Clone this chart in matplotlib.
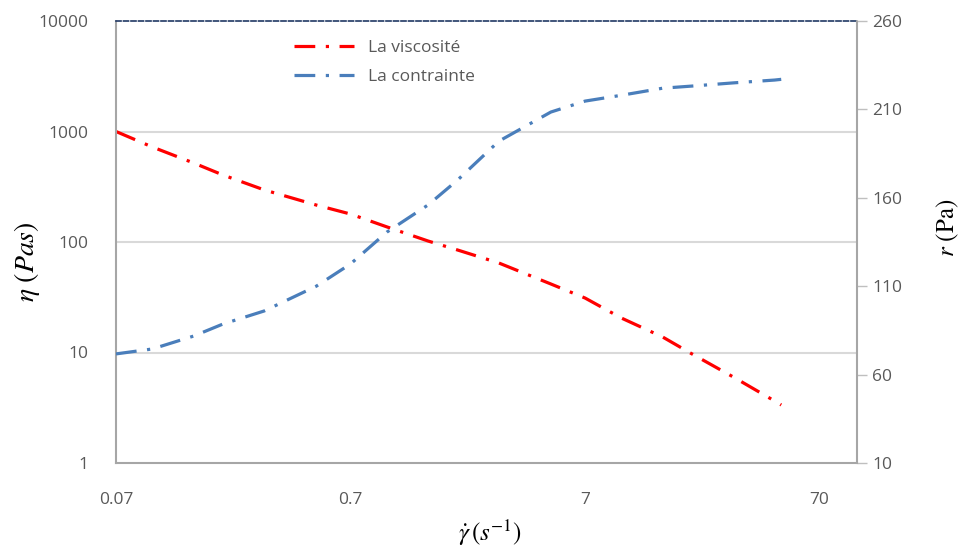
import matplotlib
matplotlib.use("Agg")
import matplotlib.pyplot as plt
from matplotlib.lines import Line2D

# Taux de cisaillement (s-1)
taux = [0.07, 0.1, 0.15, 0.2, 0.3, 0.5, 0.7, 1, 1.5, 2, 3, 5, 7, 10, 15, 20, 30, 45, 48]
# Viscosité (Pa.s), échelle log
viscosite = [1000, 724, 519, 404, 296, 216, 179, 137, 102, 84.7, 64.6, 41.7, 31.1,
             20.5, 13.8, 9.7, 6.0, 3.64, 3.35]
# Contrainte (Pa)
contrainte = [71.7, 74.5, 81.8, 88.6, 96, 110, 122.6, 140.6, 156, 170, 192, 208.5,
              214.7, 218, 222, 223.2, 225, 226.6, 227]

xticks = [0.07, 0.7, 7, 70]
xticklabels = ["0.07", "0.7", "7", "70"]
yticks_gauche = [1, 10, 100, 1000, 10000]
yticks_droite = [10, 60, 110, 160, 210, 260]

gris = "#595959"
plt.rcParams["font.family"] = ["Open Sans", "DejaVu Sans"]
plt.rcParams["mathtext.fontset"] = "stix"

fig = plt.figure(figsize=(9.74, 5.52), dpi=100)
ax = fig.add_axes([116 / 974, 1 - 463 / 552, (857 - 116) / 974, (463 - 21) / 552])
ax2 = ax.twinx()

style = (0, (6.5, 3.3, 1, 3.3))
l1, = ax.plot(taux, viscosite, color="#ff0000", lw=2.3, linestyle=style)
l2, = ax2.plot(taux, contrainte, color="#4a7ebb", lw=2.3, linestyle=style)

ax.set_xscale("log")
ax.set_yscale("log")
ax.set_xlim(0.07, 101)
ax.set_ylim(1, 10000)
ax2.set_ylim(10, 260)

ax.set_xticks(xticks)
ax.set_xticklabels(xticklabels)
ax.xaxis.set_minor_locator(matplotlib.ticker.NullLocator())
ax.set_yticks(yticks_gauche)
ax.set_yticklabels([str(v) for v in yticks_gauche])
ax.yaxis.set_minor_locator(matplotlib.ticker.NullLocator())
ax2.set_yticks(yticks_droite)
ax2.set_yticklabels([str(v) for v in yticks_droite])

ax.tick_params(axis="x", length=0, pad=21, labelsize=12.5, labelcolor=gris)
ax.tick_params(axis="y", length=0, pad=20, labelsize=12.5, labelcolor=gris)
ax2.tick_params(axis="y", length=7, width=1, color="#bfbfbf", pad=4,
                labelsize=12.5, labelcolor=gris)

# grille horizontale
for v in [10, 100, 1000]:
    ax.axhline(v, color="#d9d9d9", lw=1.5, zorder=0)

tirets = (0, (2, 1))
for nom in ["left", "bottom"]:
    ax.spines[nom].set_color("#a6a6a6")
    ax.spines[nom].set_linestyle(tirets)
    ax.spines[nom].set_linewidth(1.5)
ax.spines["top"].set_color("#203864")
ax.spines["top"].set_linestyle((0, (3, 1.5)))
ax.spines["top"].set_linewidth(1.2)
ax.spines["right"].set_visible(False)
for nom in ["left", "bottom", "top"]:
    ax2.spines[nom].set_visible(False)
ax2.spines["right"].set_color("#a6a6a6")
ax2.spines["right"].set_linestyle(tirets)
ax2.spines["right"].set_linewidth(1.5)

fig.text(27 / 974, 1 - 262 / 552, r"$\eta\ (Pas)$", rotation=90, fontsize=20,
         ha="center", va="center", color="black")
fig.text(948 / 974, 1 - 228 / 552, r"$r$ (Pa)", rotation=90, fontsize=18,
         ha="center", va="center", color="black", family="STIXGeneral")
fig.text(490 / 974, 1 - 533 / 552, r"$\dot{\gamma}\,(s^{\mathsf{-}1})$", fontsize=18,
         ha="center", va="center", color="black")

leg = ax.legend([l1, l2], ["La viscosité", "La contrainte"], loc="upper left",
                bbox_to_anchor=(162 / 741, 1 - 3 / 442), frameon=False,
                fontsize=12.5, handlelength=3.5, labelspacing=0.75)
for t in leg.get_texts():
    t.set_color(gris)

fig.savefig("out.png", dpi=100)
